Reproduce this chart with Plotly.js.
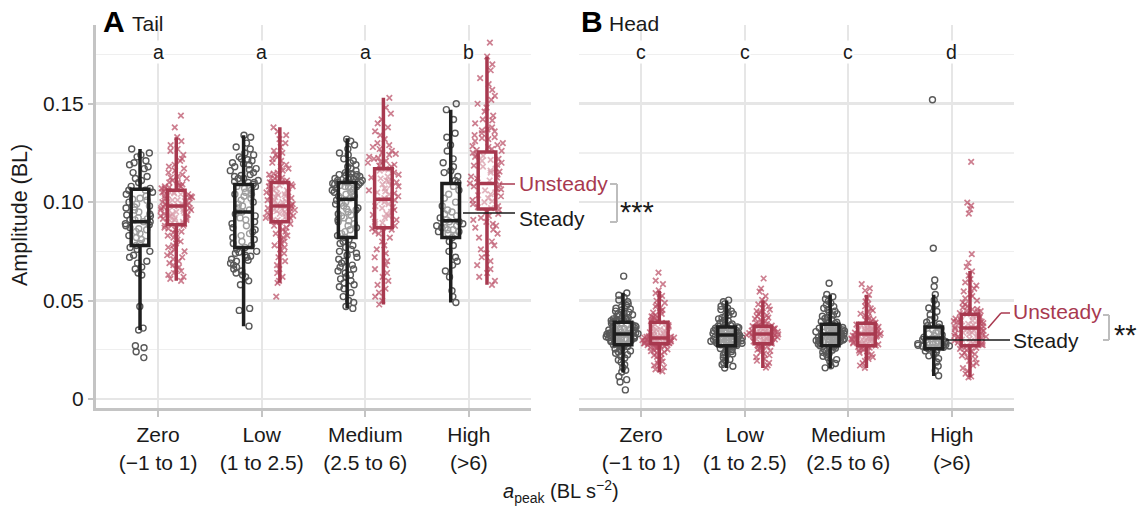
<!DOCTYPE html>
<html><head><meta charset="utf-8">
<script src="https://cdn.plot.ly/plotly-3.0.1.min.js"></script>
<style>html,body{margin:0;padding:0;background:#fff}#chart{width:1139px;height:506px}</style>
</head><body><div id="chart"></div>
<script>
// ---------- categories / ticks ----------
const categories = ["Zero<br>(\u22121 to 1)", "Low<br>(1 to 2.5)", "Medium<br>(2.5 to 6)", "High<br>(>6)"];
const yTickVals = [0, 0.05, 0.10, 0.15];
const yTickText = ["0", "0.05", "0.10", "0.15"];
const tailLetters = ["a", "a", "a", "b"];
const headLetters = ["c", "c", "c", "d"];

// ---------- box statistics ----------
const tailSteadyQ1 = [0.078, 0.077, 0.082, 0.082];
const tailSteadyMed = [0.090, 0.095, 0.1015, 0.0905];
const tailSteadyQ3 = [0.1065, 0.109, 0.110, 0.1095];
const tailSteadyLo = [0.035, 0.037, 0.046, 0.049];
const tailSteadyHi = [0.127, 0.134, 0.1325, 0.147];

const tailUnsteadyQ1 = [0.0885, 0.090, 0.087, 0.0965];
const tailUnsteadyMed = [0.098, 0.098, 0.1015, 0.1095];
const tailUnsteadyQ3 = [0.106, 0.110, 0.117, 0.1255];
const tailUnsteadyLo = [0.060, 0.059, 0.048, 0.058];
const tailUnsteadyHi = [0.133, 0.138, 0.153, 0.174];

const headSteadyQ1 = [0.0275, 0.027, 0.027, 0.0255];
const headSteadyMed = [0.033, 0.0325, 0.033, 0.031];
const headSteadyQ3 = [0.039, 0.0365, 0.038, 0.0365];
const headSteadyLo = [0.0135, 0.0157, 0.0157, 0.0117];
const headSteadyHi = [0.054, 0.050, 0.053, 0.053];

const headUnsteadyQ1 = [0.028, 0.028, 0.027, 0.027];
const headUnsteadyMed = [0.031, 0.033, 0.033, 0.036];
const headUnsteadyQ3 = [0.039, 0.037, 0.0385, 0.043];
const headUnsteadyLo = [0.0135, 0.0157, 0.0157, 0.011];
const headUnsteadyHi = [0.055, 0.050, 0.053, 0.065];

const tailSteadyZero = [0.127,0.125,0.124,0.123,0.121,0.120,0.119,0.118,0.117,0.115,0.113,0.112,0.111,0.110,0.108,0.107,0.106,0.106,0.105,0.104,0.103,0.102,0.101,0.100,0.099,0.098,0.097,0.096,0.095,0.094,0.093,0.092,0.091,0.091,0.090,0.090,0.089,0.088,0.087,0.086,0.085,0.084,0.083,0.082,0.081,0.080,0.079,0.078,0.077,0.076,0.075,0.073,0.072,0.070,0.069,0.067,0.066,0.064,0.063,0.047,0.036,0.035,0.027,0.026,0.024,0.021,0.0935,0.0915,0.0885,0.0865,0.1015,0.0975];
const tailSteadyLow = [0.134,0.133,0.130,0.128,0.127,0.125,0.124,0.123,0.122,0.121,0.120,0.119,0.118,0.117,0.116,0.115,0.114,0.113,0.112,0.112,0.111,0.110,0.110,0.109,0.108,0.108,0.107,0.106,0.105,0.104,0.104,0.103,0.102,0.101,0.100,0.099,0.098,0.097,0.096,0.095,0.095,0.094,0.093,0.092,0.091,0.090,0.089,0.088,0.087,0.086,0.085,0.084,0.083,0.082,0.081,0.080,0.079,0.078,0.077,0.076,0.075,0.074,0.073,0.072,0.071,0.070,0.069,0.068,0.067,0.066,0.065,0.064,0.063,0.062,0.060,0.058,0.046,0.045,0.037,0.1165,0.1135,0.1105,0.1075,0.0725,0.0745,0.0705,0.1195,0.1215];
const tailSteadyMedium = [0.132,0.131,0.129,0.127,0.125,0.124,0.122,0.121,0.120,0.119,0.118,0.117,0.116,0.115,0.115,0.114,0.114,0.113,0.113,0.112,0.112,0.111,0.111,0.110,0.110,0.110,0.109,0.109,0.108,0.108,0.107,0.107,0.106,0.106,0.105,0.105,0.104,0.104,0.103,0.103,0.102,0.102,0.101,0.100,0.099,0.098,0.097,0.096,0.095,0.094,0.093,0.092,0.091,0.090,0.089,0.088,0.087,0.086,0.085,0.084,0.083,0.082,0.081,0.080,0.079,0.078,0.077,0.076,0.075,0.074,0.073,0.072,0.071,0.070,0.069,0.068,0.067,0.066,0.065,0.064,0.063,0.062,0.061,0.060,0.059,0.058,0.057,0.056,0.054,0.052,0.050,0.049,0.047,0.046,0.1125,0.1115,0.1105,0.1095,0.1135,0.1085,0.1075,0.1145,0.0995,0.0965,0.0935,0.0905];
const tailSteadyHigh = [0.150,0.147,0.142,0.135,0.133,0.129,0.126,0.122,0.120,0.118,0.116,0.115,0.113,0.111,0.110,0.108,0.106,0.104,0.102,0.100,0.098,0.096,0.095,0.094,0.093,0.092,0.091,0.090,0.090,0.089,0.088,0.088,0.087,0.087,0.086,0.086,0.085,0.085,0.084,0.083,0.082,0.080,0.078,0.075,0.072,0.070,0.068,0.065,0.062,0.055,0.052,0.049];

const tailUnsteadyZero = [0.144,0.138,0.133,0.131,0.129,0.127,0.126,0.124,0.122,0.121,0.119,0.118,0.117,0.116,0.115,0.114,0.113,0.112,0.111,0.110,0.110,0.109,0.108,0.108,0.107,0.107,0.106,0.105,0.105,0.104,0.104,0.103,0.103,0.102,0.102,0.101,0.101,0.100,0.100,0.099,0.099,0.098,0.098,0.098,0.097,0.097,0.096,0.096,0.095,0.095,0.094,0.094,0.093,0.093,0.092,0.092,0.091,0.091,0.090,0.090,0.089,0.089,0.088,0.088,0.087,0.086,0.085,0.084,0.083,0.082,0.081,0.080,0.079,0.078,0.077,0.076,0.075,0.074,0.073,0.072,0.071,0.070,0.069,0.068,0.067,0.066,0.065,0.064,0.063,0.062,0.061,0.060,0.1055,0.1045,0.1035,0.1025,0.1005,0.0995,0.0985,0.0975,0.0965,0.0955,0.0945,0.0935,0.0925,0.0915,0.0895,0.1075,0.1085,0.1125,0.0865,0.0845];
const tailUnsteadyLow = [0.138,0.136,0.134,0.132,0.130,0.128,0.126,0.125,0.124,0.123,0.122,0.121,0.120,0.119,0.118,0.117,0.116,0.115,0.114,0.113,0.112,0.112,0.111,0.111,0.110,0.110,0.109,0.108,0.108,0.107,0.106,0.106,0.105,0.105,0.104,0.103,0.103,0.102,0.101,0.101,0.100,0.100,0.099,0.099,0.098,0.098,0.097,0.097,0.096,0.096,0.095,0.095,0.094,0.094,0.093,0.093,0.092,0.092,0.091,0.091,0.090,0.090,0.089,0.088,0.087,0.086,0.085,0.084,0.083,0.082,0.081,0.080,0.079,0.078,0.077,0.076,0.074,0.072,0.070,0.068,0.066,0.064,0.062,0.060,0.059,0.052,0.1085,0.1065,0.1045,0.1025,0.1005,0.0985,0.0965,0.0945,0.0925,0.0905,0.0955,0.0975,0.1035,0.1125,0.1145];
const tailUnsteadyMedium = [0.153,0.148,0.145,0.142,0.140,0.138,0.136,0.134,0.132,0.130,0.129,0.128,0.127,0.126,0.125,0.124,0.123,0.122,0.121,0.120,0.119,0.118,0.117,0.117,0.116,0.115,0.114,0.113,0.112,0.111,0.110,0.109,0.108,0.107,0.106,0.105,0.104,0.103,0.102,0.101,0.101,0.100,0.099,0.098,0.097,0.096,0.095,0.094,0.093,0.092,0.091,0.090,0.089,0.088,0.087,0.086,0.085,0.084,0.082,0.080,0.078,0.076,0.074,0.072,0.070,0.068,0.066,0.064,0.062,0.060,0.058,0.056,0.054,0.052,0.050,0.048,0.1245,0.1225,0.1205,0.1185,0.1165,0.1125,0.1085,0.1045,0.1015,0.0975,0.0935,0.0895,0.0865,0.1055,0.1105];
const tailUnsteadyHigh = [0.181,0.174,0.170,0.167,0.163,0.160,0.157,0.154,0.152,0.150,0.148,0.146,0.144,0.142,0.140,0.138,0.137,0.136,0.135,0.134,0.133,0.132,0.131,0.130,0.129,0.128,0.127,0.126,0.125,0.124,0.123,0.122,0.121,0.120,0.119,0.118,0.117,0.116,0.115,0.114,0.113,0.112,0.111,0.110,0.109,0.108,0.107,0.106,0.105,0.104,0.103,0.102,0.101,0.100,0.099,0.098,0.097,0.096,0.095,0.094,0.093,0.092,0.091,0.090,0.089,0.088,0.087,0.086,0.084,0.082,0.080,0.078,0.076,0.074,0.072,0.070,0.068,0.066,0.064,0.062,0.060,0.058,0.1285,0.1265,0.1235,0.1215,0.1185,0.1155,0.1125,0.1095,0.1065,0.1035,0.1005,0.0975,0.1325,0.1365,0.1415];

const headSteadyZero = [0.0624,0.0538,0.0527,0.0516,0.0503,0.0494,0.0483,0.0475,0.0468,0.0461,0.0457,0.0452,0.0446,0.0441,0.0437,0.0433,0.0428,0.0424,0.0421,0.0417,0.0413,0.0410,0.0407,0.0403,0.0400,0.0398,0.0395,0.0392,0.0389,0.0386,0.0384,0.0381,0.0378,0.0376,0.0373,0.0371,0.0368,0.0366,0.0363,0.0361,0.0358,0.0356,0.0354,0.0352,0.0349,0.0347,0.0345,0.0343,0.0341,0.0339,0.0337,0.0335,0.0333,0.0331,0.0329,0.0327,0.0325,0.0323,0.0321,0.0319,0.0317,0.0315,0.0313,0.0311,0.0309,0.0307,0.0305,0.0303,0.0301,0.0299,0.0296,0.0294,0.0292,0.0289,0.0287,0.0284,0.0282,0.0279,0.0276,0.0273,0.0270,0.0266,0.0262,0.0258,0.0254,0.0249,0.0244,0.0238,0.0232,0.0225,0.0217,0.0208,0.0198,0.0187,0.0174,0.0160,0.0146,0.0137,0.0114,0.0098,0.0086,0.0046,0.0334,0.0328,0.0322,0.0316,0.0344,0.0350,0.0312,0.0306];
const headSteadyLow = [0.0502,0.0494,0.0483,0.0471,0.0462,0.0454,0.0446,0.0439,0.0432,0.0425,0.0419,0.0413,0.0407,0.0401,0.0396,0.0391,0.0386,0.0381,0.0377,0.0373,0.0369,0.0366,0.0362,0.0359,0.0356,0.0353,0.0350,0.0347,0.0344,0.0341,0.0338,0.0335,0.0332,0.0329,0.0326,0.0323,0.0320,0.0317,0.0314,0.0311,0.0308,0.0305,0.0302,0.0299,0.0296,0.0293,0.0290,0.0287,0.0284,0.0281,0.0278,0.0275,0.0272,0.0268,0.0264,0.0260,0.0256,0.0251,0.0246,0.0241,0.0235,0.0229,0.0223,0.0216,0.0209,0.0201,0.0193,0.0184,0.0175,0.0166,0.0157,0.0334,0.0327,0.0319,0.0312,0.0306,0.0300,0.0294,0.0288,0.0283,0.0277,0.0339,0.0345,0.0351,0.0358,0.0364,0.0298,0.0291,0.0285,0.0316,0.0324,0.0309,0.0303,0.0280,0.0270,0.0330];
const headSteadyMedium = [0.0588,0.0531,0.0519,0.0508,0.0497,0.0487,0.0478,0.0469,0.0461,0.0453,0.0446,0.0439,0.0432,0.0426,0.0420,0.0414,0.0409,0.0404,0.0399,0.0394,0.0390,0.0386,0.0382,0.0378,0.0374,0.0370,0.0367,0.0363,0.0360,0.0357,0.0354,0.0351,0.0348,0.0345,0.0342,0.0339,0.0336,0.0333,0.0330,0.0327,0.0324,0.0321,0.0318,0.0315,0.0312,0.0309,0.0306,0.0303,0.0300,0.0297,0.0294,0.0291,0.0288,0.0285,0.0282,0.0279,0.0276,0.0273,0.0270,0.0266,0.0262,0.0258,0.0253,0.0248,0.0243,0.0237,0.0231,0.0224,0.0217,0.0209,0.0200,0.0190,0.0180,0.0169,0.0158,0.0337,0.0331,0.0325,0.0319,0.0313,0.0307,0.0301,0.0295,0.0343,0.0349,0.0355,0.0289,0.0283,0.0361,0.0316,0.0328,0.0340,0.0304,0.0298,0.0372];
const headSteadyHigh = [0.152,0.0766,0.0604,0.0571,0.0531,0.0502,0.0481,0.0462,0.0444,0.0428,0.0412,0.0401,0.0390,0.0381,0.0372,0.0365,0.0358,0.0351,0.0343,0.0336,0.0331,0.0325,0.0319,0.0314,0.0310,0.0306,0.0302,0.0298,0.0294,0.0290,0.0287,0.0284,0.0281,0.0278,0.0275,0.0272,0.0269,0.0266,0.0263,0.0259,0.0255,0.0250,0.0244,0.0237,0.0229,0.0219,0.0205,0.0188,0.0167,0.0144,0.0118,0.0286,0.0279,0.0273,0.0268,0.0292,0.0300,0.0262];

const headUnsteadyZero = [0.0642,0.0601,0.0583,0.0552,0.0538,0.0524,0.0511,0.0499,0.0488,0.0478,0.0469,0.0461,0.0453,0.0446,0.0439,0.0432,0.0426,0.0420,0.0414,0.0409,0.0404,0.0399,0.0395,0.0391,0.0387,0.0383,0.0379,0.0375,0.0371,0.0367,0.0363,0.0359,0.0355,0.0351,0.0347,0.0343,0.0339,0.0335,0.0331,0.0328,0.0325,0.0322,0.0319,0.0317,0.0315,0.0313,0.0311,0.0309,0.0307,0.0305,0.0303,0.0301,0.0299,0.0297,0.0295,0.0293,0.0291,0.0289,0.0287,0.0285,0.0283,0.0281,0.0279,0.0277,0.0275,0.0272,0.0269,0.0266,0.0263,0.0260,0.0256,0.0252,0.0248,0.0243,0.0238,0.0233,0.0227,0.0221,0.0214,0.0207,0.0199,0.0190,0.0181,0.0171,0.0161,0.0150,0.0140,0.0312,0.0306,0.0300,0.0294,0.0288,0.0282,0.0318,0.0324,0.0296,0.0290,0.0284,0.0302,0.0278,0.0273,0.0268];
const headUnsteadyLow = [0.0612,0.0561,0.0545,0.0522,0.0503,0.0492,0.0481,0.0471,0.0462,0.0454,0.0446,0.0439,0.0432,0.0425,0.0419,0.0413,0.0407,0.0401,0.0396,0.0391,0.0386,0.0381,0.0377,0.0373,0.0369,0.0366,0.0362,0.0359,0.0356,0.0353,0.0350,0.0347,0.0344,0.0341,0.0338,0.0335,0.0332,0.0329,0.0326,0.0323,0.0320,0.0317,0.0314,0.0311,0.0308,0.0305,0.0302,0.0299,0.0296,0.0293,0.0290,0.0287,0.0284,0.0281,0.0278,0.0274,0.0270,0.0266,0.0261,0.0256,0.0250,0.0244,0.0237,0.0230,0.0222,0.0213,0.0204,0.0194,0.0183,0.0171,0.0159,0.0340,0.0334,0.0328,0.0322,0.0316,0.0310,0.0304,0.0346,0.0352,0.0358,0.0298,0.0292,0.0364,0.0337,0.0331,0.0325,0.0319,0.0286,0.0370];
const headUnsteadyMedium = [0.0583,0.0562,0.0551,0.0529,0.0511,0.0496,0.0483,0.0471,0.0460,0.0450,0.0441,0.0433,0.0425,0.0418,0.0411,0.0405,0.0399,0.0393,0.0388,0.0383,0.0378,0.0374,0.0370,0.0366,0.0362,0.0358,0.0355,0.0352,0.0349,0.0346,0.0343,0.0340,0.0337,0.0334,0.0331,0.0328,0.0325,0.0322,0.0319,0.0316,0.0313,0.0310,0.0307,0.0304,0.0301,0.0298,0.0295,0.0292,0.0289,0.0286,0.0283,0.0280,0.0277,0.0274,0.0271,0.0268,0.0264,0.0260,0.0256,0.0251,0.0246,0.0240,0.0234,0.0227,0.0220,0.0212,0.0203,0.0193,0.0182,0.0170,0.0158,0.0336,0.0330,0.0324,0.0318,0.0312,0.0306,0.0300,0.0342,0.0348,0.0354,0.0294,0.0288,0.0360,0.0368,0.0376,0.0333,0.0321,0.0309,0.0282];
const headUnsteadyHigh = [0.1205,0.0998,0.0982,0.0964,0.0942,0.0736,0.0692,0.0671,0.0648,0.0627,0.0609,0.0592,0.0576,0.0561,0.0547,0.0534,0.0522,0.0511,0.0500,0.0490,0.0481,0.0472,0.0464,0.0456,0.0449,0.0442,0.0436,0.0430,0.0424,0.0418,0.0413,0.0408,0.0403,0.0398,0.0393,0.0389,0.0385,0.0381,0.0377,0.0373,0.0369,0.0365,0.0361,0.0357,0.0353,0.0349,0.0345,0.0341,0.0337,0.0333,0.0329,0.0325,0.0321,0.0317,0.0313,0.0309,0.0305,0.0301,0.0297,0.0293,0.0289,0.0285,0.0281,0.0277,0.0273,0.0269,0.0264,0.0259,0.0254,0.0248,0.0242,0.0235,0.0228,0.0220,0.0212,0.0203,0.0193,0.0182,0.0170,0.0157,0.0143,0.0128,0.0114,0.0110,0.0426,0.0416,0.0406,0.0396,0.0386,0.0376,0.0366,0.0356,0.0346,0.0336,0.0326,0.0316,0.0306,0.0296,0.0286,0.0276,0.0446,0.0455,0.0395,0.0355,0.0315];

// ---------- styling ----------
const FONT = '"Liberation Sans", Arial, Helvetica, sans-serif';
const INK = '#1a1a1a';
const RED = '#a8394f';
const RED_PTS = 'rgba(186,78,101,0.72)';
const GREY_PTS = '#595959';
const GRID = '#e6e6e6';
const GRID_MINOR = '#efefef';
const AXIS = '#c4c4c4';
const OFF = 0.175;       // dodge of each condition from category centre
const BOXW = 0.17;       // box width (data units)
const PTW = 0.33;        // swarm width (data units)
const W = 1139, H = 506;
const px = v => v / W, py = v => 1 - v / H;

function pointsTrace(groups, sign, xa, ya, steady) {
  const xs = [], ys = [];
  groups.forEach((g, i) => g.forEach(v => { xs.push(i + sign * OFF); ys.push(v); }));
  return {
    type: 'box', x: xs, y: ys, xaxis: xa, yaxis: ya,
    boxpoints: 'all', jitter: 1, pointpos: 0, width: PTW,
    line: {width: 0, color: 'rgba(0,0,0,0)'}, fillcolor: 'rgba(0,0,0,0)',
    marker: steady
      ? {symbol: 'circle-open', size: 6, color: GREY_PTS, line: {width: 1.4, color: GREY_PTS}}
      : {symbol: 'x-thin-open', size: 5.5, color: RED_PTS, line: {width: 1.7, color: RED_PTS}},
    hoverinfo: 'skip', showlegend: false
  };
}
function statsTrace(q1, med, q3, lo, hi, sign, xa, ya, col) {
  return {
    type: 'box', x: [0,1,2,3].map(i => i + sign * OFF), xaxis: xa, yaxis: ya,
    q1: q1, median: med, q3: q3, lowerfence: lo, upperfence: hi,
    width: BOXW, whiskerwidth: 0, boxpoints: false,
    line: {width: 3.5, color: col}, fillcolor: 'rgba(255,255,255,0.42)',
    hoverinfo: 'skip', showlegend: false
  };
}

const data = [
  pointsTrace([tailSteadyZero, tailSteadyLow, tailSteadyMedium, tailSteadyHigh], -1, 'x', 'y', true),
  pointsTrace([tailUnsteadyZero, tailUnsteadyLow, tailUnsteadyMedium, tailUnsteadyHigh], 1, 'x', 'y', false),
  pointsTrace([headSteadyZero, headSteadyLow, headSteadyMedium, headSteadyHigh], -1, 'x2', 'y2', true),
  pointsTrace([headUnsteadyZero, headUnsteadyLow, headUnsteadyMedium, headUnsteadyHigh], 1, 'x2', 'y2', false),
  statsTrace(tailSteadyQ1, tailSteadyMed, tailSteadyQ3, tailSteadyLo, tailSteadyHi, -1, 'x', 'y', '#1f1f1f'),
  statsTrace(tailUnsteadyQ1, tailUnsteadyMed, tailUnsteadyQ3, tailUnsteadyLo, tailUnsteadyHi, 1, 'x', 'y', RED),
  statsTrace(headSteadyQ1, headSteadyMed, headSteadyQ3, headSteadyLo, headSteadyHi, -1, 'x2', 'y2', '#1f1f1f'),
  statsTrace(headUnsteadyQ1, headUnsteadyMed, headUnsteadyQ3, headUnsteadyLo, headUnsteadyHi, 1, 'x2', 'y2', RED)
];

const xBase = {
  range: [-0.6, 3.6], tickmode: 'array', tickvals: [0,1,2,3], ticktext: categories,
  showgrid: true, gridcolor: GRID, gridwidth: 2, zeroline: false,
  showline: true, linecolor: AXIS, linewidth: 3,
  ticks: 'outside', ticklen: 6, tickwidth: 2, tickcolor: AXIS,
  tickfont: {family: FONT, size: 21, color: INK}, fixedrange: true
};
const yBase = {
  range: [-0.0046, 0.19], tickmode: 'array', tickvals: yTickVals, ticktext: yTickText,
  showgrid: true, gridcolor: GRID, gridwidth: 2.5, zeroline: false,
  minor: {tickvals: [0.025, 0.075, 0.125, 0.175], showgrid: true, gridcolor: GRID_MINOR, gridwidth: 1.5, ticks: ''},
  tickfont: {family: FONT, size: 21, color: INK}, fixedrange: true,
  domain: [py(408), py(25)]
};

const ann = [];
function txt(x, y, t, o) { ann.push(Object.assign({xref: 'paper', yref: 'paper', x: px(x), y: py(y), text: t, showarrow: false,
  font: {family: FONT, size: 21, color: INK}, xanchor: 'left', yanchor: 'middle'}, o || {})); }
txt(101, 22, '<b>A</b>', {font: {family: FONT, size: 30, color: '#000'}});
txt(130, 24, 'Tail', {font: {family: FONT, size: 21, color: INK}});
txt(579, 22, '<b>B</b>', {font: {family: FONT, size: 30, color: '#000'}});
txt(607, 24, 'Head', {font: {family: FONT, size: 21, color: INK}});
tailLetters.forEach((l, i) => ann.push({xref: 'x', yref: 'y', x: i, y: 0.1765, text: l, showarrow: false,
  bgcolor: '#fff', borderpad: 0, font: {family: FONT, size: 19.5, color: INK}}));
headLetters.forEach((l, i) => ann.push({xref: 'x2', yref: 'y2', x: i, y: 0.1765, text: l, showarrow: false,
  bgcolor: '#fff', borderpad: 0, font: {family: FONT, size: 19.5, color: INK}}));
txt(517, 183, 'Unsteady', {font: {family: FONT, size: 21, color: RED}});
txt(517, 219, 'Steady');
txt(618, 212, '***', {font: {family: FONT, size: 29, color: INK}});
txt(1011, 311, 'Unsteady', {font: {family: FONT, size: 21, color: RED}});
txt(1011, 340, 'Steady');
txt(1112, 335, '**', {font: {family: FONT, size: 29, color: INK}});
txt(20, 215, 'Amplitude (BL)', {xanchor: 'center', textangle: -90, font: {family: FONT, size: 21.5, color: INK}});
txt(561, 491, '<i>a</i><sub>peak</sub> (BL s<sup>\u22122</sup>)', {xanchor: 'center', font: {family: FONT, size: 20, color: INK}});

const shapes = [];
function seg(x0, y0, x1, y1, col, w) { shapes.push({type: 'line', xref: 'paper', yref: 'paper', x0: px(x0), y0: py(y0), x1: px(x1), y1: py(y1), line: {color: col, width: w}}); }
seg(500, 184, 515, 184, RED, 1.5);
seg(463, 213, 515, 213, INK, 1.5);
seg(610, 184, 617, 184, '#bdbdbd', 2); seg(617, 184, 617, 222, '#bdbdbd', 2); seg(610, 222, 617, 222, '#bdbdbd', 2);
seg(988, 328, 1001, 313, RED, 1.5); seg(1001, 313, 1010, 313, RED, 1.5);
seg(946, 340, 1010, 340, INK, 1.5);
seg(1103, 315, 1109, 315, '#bdbdbd', 2); seg(1109, 315, 1109, 340, '#bdbdbd', 2); seg(1103, 340, 1109, 340, '#bdbdbd', 2);

const layout = {
  width: W, height: H, margin: {l: 0, r: 0, t: 0, b: 0},
  paper_bgcolor: '#fff', plot_bgcolor: '#fff', showlegend: false, boxmode: 'overlay',
  font: {family: FONT, color: INK},
  xaxis: Object.assign({}, xBase, {domain: [px(96), px(531)], anchor: 'y'}),
  xaxis2: Object.assign({}, xBase, {domain: [px(579), px(1014)], anchor: 'y2'}),
  yaxis: Object.assign({}, yBase, {anchor: 'x', showline: true, linecolor: AXIS, linewidth: 3,
    ticks: 'outside', ticklen: 5, tickwidth: 2, tickcolor: AXIS}),
  yaxis2: Object.assign({}, yBase, {anchor: 'x2', showticklabels: false, showline: false, ticks: ''}),
  annotations: ann, shapes: shapes
};
Plotly.newPlot('chart', data, layout, {staticPlot: true, displayModeBar: false});
</script></body></html>
